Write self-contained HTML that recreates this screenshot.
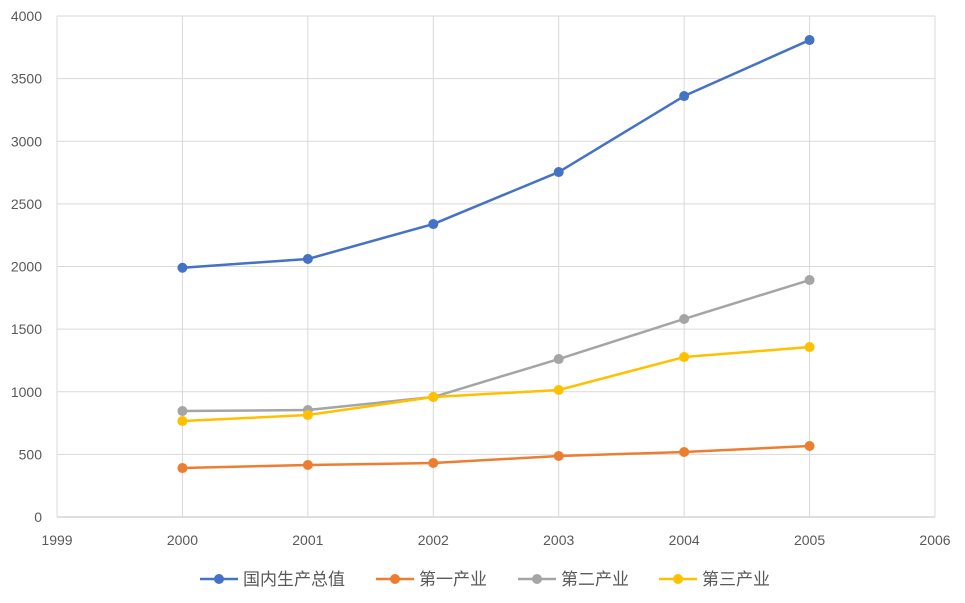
<!DOCTYPE html>
<html><head><meta charset="utf-8">
<style>
body{margin:0;background:#fff;}
svg text{font-family:"Liberation Sans","Noto Sans CJK SC",sans-serif;}
</style></head>
<body>
<svg id="chart" width="965" height="598" xmlns="http://www.w3.org/2000/svg">
<g id="grid"></g>
<g id="axes"></g>
<g id="series"></g>
<g id="legend"></g>
</svg>
<script>
const years = [2000, 2001, 2002, 2003, 2004, 2005];
const gdp = [1990, 2060, 2339, 2754, 3361, 3808];
const primary = [391, 415, 431, 487, 519, 567];
const secondary = [846, 854, 958, 1261, 1581, 1892];
const tertiary = [766, 814, 958, 1014, 1277, 1357];
const seriesNames = ["国内生产总值", "第一产业", "第二产业", "第三产业"];
const yTicks = [0, 500, 1000, 1500, 2000, 2500, 3000, 3500, 4000];
const xTicks = [1999, 2000, 2001, 2002, 2003, 2004, 2005, 2006];

const NS = "http://www.w3.org/2000/svg";
const X0 = 57, X1 = 935, Y0 = 517, Y1 = 16;
const xMin = 1999, xMax = 2006, yMin = 0, yMax = 4000;
const sx = v => X0 + (v - xMin) / (xMax - xMin) * (X1 - X0);
const sy = v => Y0 - (v - yMin) / (yMax - yMin) * (Y0 - Y1);
function mk(tag, attrs, parent) {
  const e = document.createElementNS(NS, tag);
  for (const k in attrs) e.setAttribute(k, attrs[k]);
  parent.appendChild(e);
  return e;
}
const grid = document.getElementById('grid');
const axes = document.getElementById('axes');
yTicks.forEach(t => {
  const l = mk('line', {x1: X0, x2: X1, y1: sy(t), y2: sy(t), stroke: t === 0 ? '#bfbfbf' : '#d9d9d9', 'stroke-width': 1}, grid);
  
  
  const tx = mk('text', {x: 42, y: sy(t) + 5, 'text-anchor': 'end', 'font-size': 14, fill: '#595959'}, axes);
  tx.textContent = t;
  
  
});
xTicks.forEach(t => {
  const l = mk('line', {x1: sx(t), x2: sx(t), y1: Y1, y2: Y0, stroke: '#d9d9d9', 'stroke-width': 1}, grid);
  
  
  const tx = mk('text', {x: sx(t), y: 545, 'text-anchor': 'middle', 'font-size': 14, fill: '#595959'}, axes);
  tx.textContent = t;
  
  
});
const data = [gdp, primary, secondary, tertiary];
const colors = ['#4472c4', '#ed7d31', '#a5a5a5', '#ffc000'];
const seriesG = document.getElementById('series');
data.forEach((vals, i) => {
  const g = mk('g', {}, seriesG);
  
  
  const pts = vals.map((v, j) => sx(years[j]) + ',' + sy(v)).join(' ');
  const pl = mk('polyline', {points: pts, fill: 'none', stroke: colors[i], 'stroke-width': 2.5, 'stroke-linejoin': 'round'}, g);
  
  
  vals.forEach((v, j) => {
    const c = mk('circle', {cx: sx(years[j]), cy: sy(v), r: 5, fill: colors[i]}, g);
    
    
  });
});
const legend = document.getElementById('legend');
const lx = [200, 376, 518, 659];
seriesNames.forEach((n, i) => {
  const g = mk('g', {}, legend);
  
  
  mk('line', {x1: lx[i], x2: lx[i] + 38, y1: 579, y2: 579, stroke: colors[i], 'stroke-width': 2.5}, g);
  mk('circle', {cx: lx[i] + 19, cy: 579, r: 5, fill: colors[i]}, g);
  const t = mk('text', {x: lx[i] + 43, y: 585, 'font-size': 17, fill: '#595959'}, g);
  t.textContent = n;
});
</script>
</body></html>
